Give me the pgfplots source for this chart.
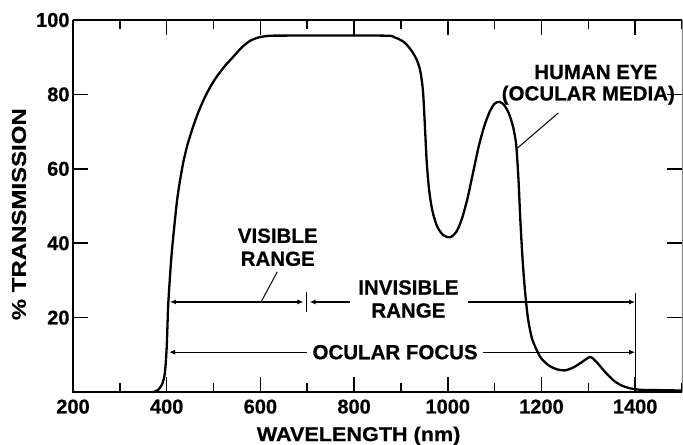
\documentclass[border=0pt]{standalone}
\usepackage{fontspec}
\setmainfont{Liberation Sans}[BoldFeatures={FakeBold=0.6}]
\newfontfamily\ylabfont{Liberation Sans}[FakeStretch=1.2, BoldFeatures={FakeBold=0.6}]
\newfontfamily\xlabfont{Liberation Sans}[FakeStretch=1.08, BoldFeatures={FakeBold=0.6}]
\usepackage{pgfplots}
\pgfplotsset{compat=1.18}
\usetikzlibrary{arrows.meta}

\newcommand{\chartfont}{\bfseries\fontsize{20bp}{23bp}\selectfont}
\newcommand{\annfont}{\bfseries\fontsize{20.5bp}{23bp}\selectfont}

\begin{document}
\begin{tikzpicture}
\useasboundingbox (-73bp,-53bp) rectangle (610bp,392bp);
\begin{axis}[
    scale only axis,
    width=609bp, height=372bp,
    xmin=200, xmax=1500, ymin=0, ymax=100,
    xtick={200,400,...,1400},
    minor xtick={300,500,...,1500},
    ytick={20,40,60,80,100},
    tick align=inside,
    major tick length=15bp,
    minor tick length=9bp,
    every tick/.style={black, line width=1.5bp},
    tick label style={font=\chartfont},
    xticklabel style={yshift=-4bp},
    /pgf/number format/assume math mode=true,
    /pgf/number format/1000 sep={},
    separate axis lines,
    axis line style={draw=none},
    xlabel={\xlabfont\bfseries\fontsize{20bp}{23bp}\selectfont WAVELENGTH (nm)},
    ylabel={\ylabfont\bfseries\fontsize{20bp}{23bp}\selectfont \% TRANSMISSION},
    xlabel style={at={(axis description cs:0.469,-0.118)}, anchor=center},
    ylabel style={at={(axis description cs:-0.0887,0.478)}, anchor=center},
    clip=false,
]
\addplot[black, line width=2.3bp, smooth, tension=0.45] coordinates {
(370,0) (380,0.4) (390,2) (396,5) (400,12) (403.5,24) (410.7,37.3)
(421.4,50.7) (428,56.5) (435.5,61.8) (444,66.3) (453.5,70.2) (465,74.4)
(478,78.3) (492,81.8) (507,84.8) (524,87.6) (542,90.1) (560,92.6)
(578,94.4) (596,95.3) (615,95.7) (640,95.8)
(860,95.8) (885,95.4) (905,94.2) (920,92.2) (933,89.5) (941,86.5)
(947,81) (951,72) (955,62) (960,54.5) (967,48.8) (977,44.6) (990,42.2)
(1005,41.6) (1018,43) (1030,46.5) (1042,52) (1054,59) (1066,66)
(1078,71.5) (1090,75.5) (1100,77.5) (1110,78) (1120,77.2) (1130,75)
(1139,71.5) (1146,66.5) (1151,57) (1155,46) (1160,35) (1165,27)
(1171,20) (1180,14.3) (1197,9.5) (1215,7.2) (1233,6.1) (1250,5.8)
(1268,6.6) (1286,8) (1304,9.4) (1318,8) (1335,5.5) (1353,3.2) (1370,1.8)
(1389,1) (1410,0.6) (1450,0.5) (1500,0.4)
};
% frame
\draw[line width=2bp] (rel axis cs:0,1) -- (rel axis cs:0,0) -- (rel axis cs:1,0);
\draw[line width=2bp] (rel axis cs:0,1) -- (rel axis cs:1,1);
\draw[gray, line width=0.8bp] (rel axis cs:1,0) -- (rel axis cs:1,1);
% ranges
\draw[line width=1.2bp, {Latex[length=6bp,width=5bp]}-{Latex[length=6bp,width=5bp]}]
    (axis cs:407,24.2) -- (axis cs:692,24.2);
\draw[line width=1.2bp] (axis cs:698,21.6) -- (axis cs:698,27);
\draw[line width=1.2bp, {Latex[length=6bp,width=5bp]}-]
    (axis cs:705,24.2) -- (axis cs:791,24.2);
\draw[line width=1.2bp, -{Latex[length=6bp,width=5bp]}]
    (axis cs:1043,24.2) -- (axis cs:1400,24.2);
\draw[line width=1.2bp, {Latex[length=6bp,width=5bp]}-]
    (axis cs:405,10.7) -- (axis cs:700,10.7);
\draw[line width=1.2bp, -{Latex[length=6bp,width=5bp]}]
    (axis cs:1075,10.7) -- (axis cs:1400,10.7);
\draw[line width=1.2bp] (axis cs:1400,0) -- (axis cs:1400,26.6);
% leaders
\draw[line width=1bp] (axis cs:636,32.3) -- (axis cs:601.5,24.2);
\draw[line width=1bp] (axis cs:1236,75) -- (axis cs:1148,65.5);
% labels
\node[font=\annfont, align=center, inner sep=0] at (axis cs:637,38.9) {VISIBLE\\RANGE};
\node[font=\annfont, align=center, inner sep=0] at (axis cs:916,25) {INVISIBLE\\RANGE};
\node[font=\annfont, inner sep=0] at (axis cs:887.6,10.7) {OCULAR FOCUS};
\node[font=\annfont, inner sep=0] at (axis cs:1316,86) {HUMAN EYE};
\node[font=\annfont, inner sep=0] at (axis cs:1300,79.8) {(OCULAR MEDIA)};
\end{axis}
\end{tikzpicture}
\end{document}
